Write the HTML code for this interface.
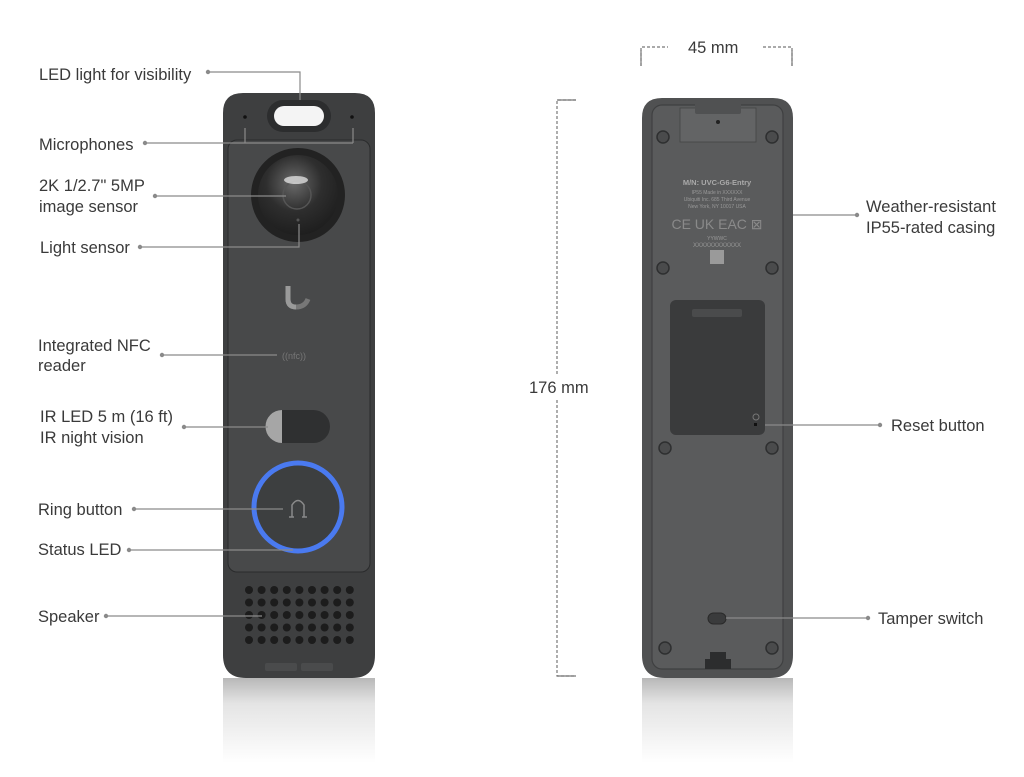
<!DOCTYPE html>
<html><head><meta charset="utf-8"><style>
html,body{margin:0;padding:0;background:#fff;}
svg{display:block;}
text{font-family:"Liberation Sans",sans-serif;font-size:16.5px;fill:#3a3a3a;}
</style></head><body>
<svg width="1024" height="777" viewBox="0 0 1024 777" xmlns="http://www.w3.org/2000/svg">
<defs>
<linearGradient id="refl" x1="0" y1="0" x2="0" y2="1">
<stop offset="0" stop-color="#b8b8b8"/><stop offset="0.3" stop-color="#e4e4e4"/><stop offset="1" stop-color="#fff"/>
</linearGradient>
<radialGradient id="lens" cx="0.45" cy="0.35" r="0.7">
<stop offset="0" stop-color="#6a6a6a"/><stop offset="0.5" stop-color="#2e2e2e"/><stop offset="1" stop-color="#1c1c1c"/>
</radialGradient>
</defs>
<rect x="223" y="678" width="152" height="85" fill="url(#refl)"/>
<rect x="642" y="678" width="151" height="85" fill="url(#refl)"/>

<!-- FRONT DEVICE -->
<path d="M243 93 H355 Q375 93 375 113 V655 Q375 678 352 678 H246 Q223 678 223 655 V113 Q223 93 243 93 Z" fill="#3e3f40"/>
<rect x="228" y="140" width="142" height="432" rx="9" fill="#48494a" stroke="#2a2b2c" stroke-width="1"/>
<rect x="267" y="100" width="64" height="32" rx="16" fill="#2c2d2e"/>
<rect x="274" y="106" width="50" height="20" rx="10" fill="#f4f4f4"/>
<circle cx="245" cy="117" r="1.8" fill="#111"/>
<circle cx="352" cy="117" r="1.8" fill="#111"/>
<circle cx="298" cy="195" r="47" fill="#222"/>
<circle cx="298" cy="195" r="40" fill="url(#lens)"/>
<circle cx="297" cy="195" r="14" fill="none" stroke="#555" stroke-width="1.5"/>
<ellipse cx="296" cy="180" rx="12" ry="4" fill="#ddd" opacity="0.8"/>
<circle cx="298" cy="220" r="1.5" fill="#555"/>
<path d="M288 286 V299 Q288 307 296 307 Q305 307 308 299" fill="none" stroke="#777" stroke-width="5"/>
<path d="M288 286 V299 Q288 307 296 307" fill="none" stroke="#9a9a9a" stroke-width="5"/>
<text x="282" y="359" style="font-size:9px;fill:#777">((nfc))</text>
<rect x="266" y="410" width="64" height="33" rx="16.5" fill="#2f3031"/>
<path d="M282 410 V443 H282 A16.5 16.5 0 0 1 282 410 Z" fill="#a6a6a6"/>
<circle cx="298" cy="507" r="44" fill="#3d3f40" stroke="#4a7af0" stroke-width="5"/>
<path d="M292 517 V505 Q298 496 304 505 V517 M289 517 H294 M302 517 H307" fill="none" stroke="#8a8a8a" stroke-width="1.5"/>
<g fill="#1c1c1c">
<g id="row">
<circle cx="249" cy="590" r="4"/><circle cx="261.6" cy="590" r="4"/><circle cx="274.2" cy="590" r="4"/><circle cx="286.8" cy="590" r="4"/><circle cx="299.4" cy="590" r="4"/><circle cx="312" cy="590" r="4"/><circle cx="324.6" cy="590" r="4"/><circle cx="337.2" cy="590" r="4"/><circle cx="349.8" cy="590" r="4"/>
</g>
<use href="#row" y="12.5"/><use href="#row" y="25"/><use href="#row" y="37.5"/><use href="#row" y="50"/>
</g>
<rect x="265" y="663" width="32" height="8" rx="2" fill="#4a4b4c"/>
<rect x="301" y="663" width="32" height="8" rx="2" fill="#4a4b4c"/>

<!-- BACK DEVICE -->
<path d="M662 98 H773 Q793 98 793 118 V655 Q793 678 770 678 H665 Q642 678 642 655 V118 Q642 98 662 98 Z" fill="#505152"/>
<rect x="652" y="105" width="131" height="564" rx="10" fill="#5a5b5c" stroke="#3f4041" stroke-width="1.2"/>
<rect x="680" y="108" width="76" height="34" fill="#636465" stroke="#444" stroke-width="0.8"/>
<rect x="695" y="100" width="46" height="14" rx="2" fill="#505152"/>
<circle cx="718" cy="122" r="2" fill="#222"/>
<g fill="#4a4b4c" stroke="#2e2f30" stroke-width="1.5">
<circle cx="663" cy="137" r="6"/><circle cx="772" cy="137" r="6"/>
<circle cx="663" cy="268" r="6"/><circle cx="772" cy="268" r="6"/>
<circle cx="665" cy="448" r="6"/><circle cx="772" cy="448" r="6"/>
<circle cx="665" cy="648" r="6"/><circle cx="772" cy="648" r="6"/>
</g>
<text x="717" y="185" style="font-size:7.5px;fill:#aaa;font-weight:bold" text-anchor="middle">M/N: UVC-G6-Entry</text>
<text x="717" y="194" style="font-size:5px;fill:#999" text-anchor="middle">IP55   Made in XXXXXX</text>
<text x="717" y="201" style="font-size:5px;fill:#999" text-anchor="middle">Ubiquiti Inc. 685 Third Avenue</text>
<text x="717" y="208" style="font-size:5px;fill:#999" text-anchor="middle">New York, NY 10017 USA</text>
<text x="717" y="229" style="font-size:14px;fill:#8a8a8a" text-anchor="middle">CE UK EAC ⊠</text>
<text x="717" y="240" style="font-size:5px;fill:#999" text-anchor="middle">YYWWC</text>
<text x="717" y="247" style="font-size:6px;fill:#999" text-anchor="middle">XXXXXXXXXXXX</text>
<rect x="710" y="250" width="14" height="14" fill="#9a9a9a"/>
<rect x="670" y="300" width="95" height="135" rx="6" fill="#3a3b3c"/>
<rect x="692" y="309" width="50" height="8" rx="2" fill="#4a4b4c"/>
<circle cx="756" cy="417" r="3" fill="none" stroke="#777" stroke-width="1"/>
<rect x="754" y="423" width="3" height="3" fill="#111"/>
<rect x="708" y="613" width="18" height="11" rx="5.5" fill="#3a3b3c" stroke="#2a2a2a"/>
<path d="M705 669 V659 H710 V652 H726 V659 H731 V669 Z" fill="#2c2d2e"/>

<!-- DIMENSIONS -->
<g stroke="#777" stroke-width="1.2" fill="none">
<path d="M641 66 V47 H668" stroke-dasharray="3,2"/>
<path d="M641 66 V50"/>
<path d="M763 47 H792 V66" stroke-dasharray="3,2"/>
<path d="M792 50 V66"/>
<path d="M576 100 H557 V374" stroke-dasharray="3,2"/>
<path d="M557 400 V676 H576" stroke-dasharray="3,2"/>
<path d="M576 100 H557"/><path d="M557 676 H576"/>
</g>
<text x="688" y="53">45 mm</text>
<text x="529" y="393">176 mm</text>

<!-- CONNECTORS -->
<g stroke="#8a8a8a" stroke-width="1.2" fill="none">
<path d="M208 72 H300 V100"/>
<path d="M145 143 H353 M245 128 V143 M353 128 V143"/>
<path d="M155 196 H286"/>
<path d="M140 247 H299 V224"/>
<path d="M162 355 H277"/>
<path d="M184 427 H268"/>
<path d="M134 509 H283"/>
<path d="M129 550 H293"/>
<path d="M106 616 H262"/>
<path d="M793 215 H857"/>
<path d="M765 425 H880"/>
<path d="M726 618 H868"/>
</g>
<g fill="#8a8a8a">
<circle cx="208" cy="72" r="2.2"/><circle cx="145" cy="143" r="2.2"/><circle cx="155" cy="196" r="2.2"/>
<circle cx="140" cy="247" r="2.2"/><circle cx="162" cy="355" r="2.2"/><circle cx="184" cy="427" r="2.2"/>
<circle cx="134" cy="509" r="2.2"/><circle cx="129" cy="550" r="2.2"/><circle cx="106" cy="616" r="2.2"/>
<circle cx="857" cy="215" r="2.2"/><circle cx="880" cy="425" r="2.2"/><circle cx="868" cy="618" r="2.2"/>
</g>

<!-- LABELS -->
<text x="39" y="80">LED light for visibility</text>
<text x="39" y="150">Microphones</text>
<text x="39" y="191">2K 1/2.7" 5MP</text>
<text x="39" y="212">image sensor</text>
<text x="40" y="253">Light sensor</text>
<text x="38" y="351">Integrated NFC</text>
<text x="38" y="371">reader</text>
<text x="40" y="422">IR LED 5 m (16 ft)</text>
<text x="40" y="443">IR night vision</text>
<text x="38" y="515">Ring button</text>
<text x="38" y="555">Status LED</text>
<text x="38" y="622">Speaker</text>
<text x="866" y="212">Weather-resistant</text>
<text x="866" y="233">IP55-rated casing</text>
<text x="891" y="431">Reset button</text>
<text x="878" y="624">Tamper switch</text>
</svg>
</body></html>
